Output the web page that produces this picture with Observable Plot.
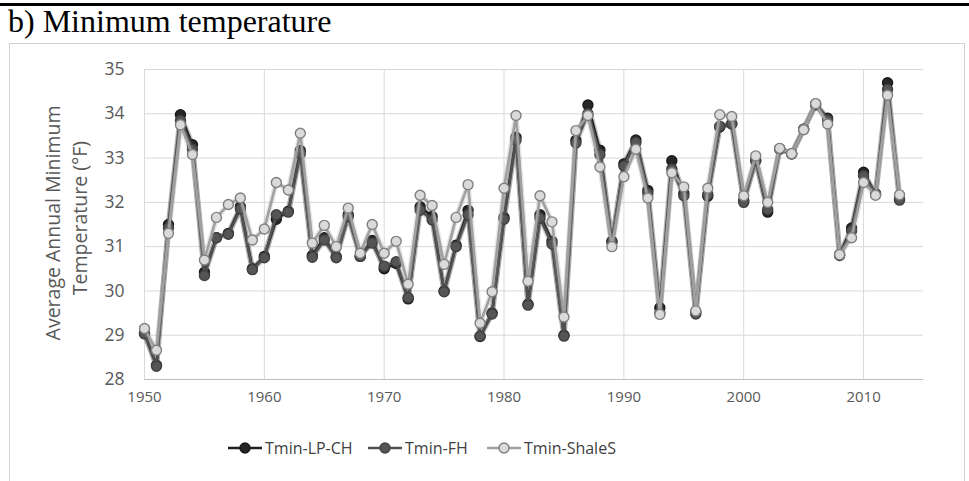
<!DOCTYPE html>
<html>
<head>
<meta charset="utf-8">
<script src="https://cdn.jsdelivr.net/npm/d3@7"></script>
<script src="https://cdn.jsdelivr.net/npm/@observablehq/plot@0.6"></script>
<style>
  html, body { margin: 0; padding: 0; background: #fff; }
  #wrap { position: relative; width: 969px; height: 481px; overflow: hidden; }
  #topline { position: absolute; left: 0; top: 3px; width: 969px; height: 2.5px; background: #000; }
  #title { position: absolute; left: 8px; top: 3px; font-family: "Liberation Serif", "Times New Roman", serif; font-size: 32px; color: #000; white-space: nowrap; }
  #box { position: absolute; left: 9px; top: 43px; width: 956px; height: 450px; border: 1px solid #d0d0d0; box-sizing: border-box; }
  #chart { position: absolute; left: 0; top: 0; }
  .ylab { position: absolute; font-family: "Open Sans", sans-serif; font-size: 19.5px; color: #595959; white-space: nowrap; transform: translate(-50%, -50%) rotate(-90deg); }
  #legend { position: absolute; top: 436px; left: 0; width: 969px; height: 24px; font-family: "Open Sans", sans-serif; font-size: 16px; color: #404040; }
  .li { position: absolute; top: 0; display: flex; align-items: center; height: 24px; white-space: nowrap; }
  .li svg { margin-right: 3px; }
</style>
</head>
<body>
<div id="wrap">
  <div id="topline"></div>
  <div id="title">b) Minimum temperature</div>
  <div id="box"></div>
  <div id="chart"></div>
  <div class="ylab" style="left:52px; top:223px;">Average Annual Minimum</div>
  <div class="ylab" style="left:79px; top:218px;">Temperature (°F)</div>
  <div id="legend"></div>
</div>
<script>
const years = [1950,1951,1952,1953,1954,1955,1956,1957,1958,1959,
  1960,1961,1962,1963,1964,1965,1966,1967,1968,1969,
  1970,1971,1972,1973,1974,1975,1976,1977,1978,1979,
  1980,1981,1982,1983,1984,1985,1986,1987,1988,1989,
  1990,1991,1992,1993,1994,1995,1996,1997,1998,1999,
  2000,2001,2002,2003,2004,2005,2006,2007,2008,2009,
  2010,2011,2012,2013];

const tminLPCH = [29.05,28.32,31.5,33.98,33.3,30.42,31.2,31.3,31.9,30.5,
  30.78,31.62,31.8,33.17,30.8,31.2,30.77,31.72,30.78,31.14,
  30.5,30.62,29.82,31.9,31.68,30.0,31.03,31.82,28.97,29.5,
  31.66,33.47,29.7,31.72,31.12,29.0,33.4,34.2,33.18,31.12,
  32.87,33.41,32.27,29.62,32.94,32.2,29.52,32.14,33.7,33.77,
  32.04,32.94,31.78,33.21,33.1,33.65,34.22,33.9,30.82,31.42,
  32.68,32.18,34.7,32.08];

const tminFH = [29.03,28.3,31.42,33.85,33.2,30.35,31.2,31.28,31.85,30.48,
  30.75,31.72,31.78,33.1,30.76,31.15,30.75,31.68,30.78,31.08,
  30.56,30.66,29.85,31.82,31.6,29.98,31.0,31.72,28.98,29.48,
  31.62,33.4,29.68,31.64,31.06,28.98,33.34,34.0,33.08,31.1,
  32.82,33.35,32.2,29.5,32.75,32.15,29.48,32.18,33.72,33.78,
  32.0,32.95,31.84,33.2,33.09,33.65,34.2,33.86,30.8,31.36,
  32.6,32.2,34.55,32.05];

const tminShaleS = [29.15,28.66,31.3,33.75,33.08,30.7,31.66,31.95,32.1,31.15,
  31.4,32.45,32.28,33.56,31.08,31.48,31.0,31.87,30.85,31.5,
  30.85,31.12,30.15,32.16,31.93,30.6,31.66,32.4,29.27,29.98,
  32.32,33.96,30.22,32.15,31.56,29.41,33.62,33.96,32.8,31.0,
  32.58,33.2,32.1,29.47,32.67,32.35,29.55,32.32,33.98,33.94,
  32.15,33.05,32.0,33.22,33.1,33.64,34.23,33.77,30.82,31.2,
  32.45,32.16,34.42,32.17];

const seriesNames = ["Tmin-LP-CH", "Tmin-FH", "Tmin-ShaleS"];
const xTicks = [1950, 1960, 1970, 1980, 1990, 2000, 2010];
const yTicks = [28, 29, 30, 31, 32, 33, 34, 35];

const styles = {
  "Tmin-LP-CH": {line: "#1f1f1f", fill: "#262626", dotStroke: "#1a1a1a"},
  "Tmin-FH": {line: "#505050", fill: "#555555", dotStroke: "#404040"},
  "Tmin-ShaleS": {line: "#a0a0a0", fill: "#dadada", dotStroke: "#808080"}
};

const seriesValues = [tminLPCH, tminFH, tminShaleS];
const rows = seriesNames.flatMap((name, i) =>
  years.map((yr, j) => ({series: name, year: yr, value: seriesValues[i][j]})));

const marks = [
  Plot.gridY(yTicks, {stroke: "#d9d9d9", strokeOpacity: 1, strokeWidth: 1}),
  Plot.gridX(xTicks, {stroke: "#d9d9d9", strokeOpacity: 1, strokeWidth: 1}),
  Plot.ruleY([28], {stroke: "#bfbfbf", strokeWidth: 1.2}),
  Plot.axisY(yTicks, {tickSize: 0, tickPadding: 20, fontSize: 17.5, fill: "#595959", fontFamily: "Open Sans", label: null}),
  Plot.axisX(xTicks, {tickSize: 0, tickPadding: 12, fontSize: 15, fill: "#595959", fontFamily: "Open Sans", label: null, tickFormat: d => String(d)})
];
for (const name of seriesNames) {
  const data = rows.filter(r => r.series === name);
  const s = styles[name];
  marks.push(Plot.line(data, {x: "year", y: "value", stroke: s.line, strokeOpacity: 0.25, strokeWidth: 5.5}));
  marks.push(Plot.line(data, {x: "year", y: "value", stroke: s.line, strokeWidth: 2.6}));
  marks.push(Plot.dot(data, {x: "year", y: "value", r: 5, fill: s.fill, stroke: s.dotStroke, strokeWidth: 1.4}));
}

const chart = Plot.plot({
  width: 969,
  height: 481,
  marginLeft: 144,
  marginRight: 46,
  marginTop: 69,
  marginBottom: 102,
  x: {domain: [1950, 2015], axis: null},
  y: {domain: [28, 35], axis: null},
  style: {background: "transparent", fontFamily: "Open Sans"},
  marks
});
document.getElementById("chart").appendChild(chart);

// legend
const legend = document.getElementById("legend");
const legendX = [228, 368, 487];
seriesNames.forEach((name, i) => {
  const s = styles[name];
  const item = document.createElement("div");
  item.className = "li";
  item.style.left = legendX[i] + "px";
  item.innerHTML = `<svg width="34" height="14"><line x1="0" x2="34" y1="7" y2="7" stroke="${s.line}" stroke-width="2.6"/><circle cx="17" cy="7" r="5" fill="${s.fill}" stroke="${s.dotStroke}" stroke-width="1.4"/></svg><span>${name}</span>`;
  legend.appendChild(item);
});
</script>
</body>
</html>
